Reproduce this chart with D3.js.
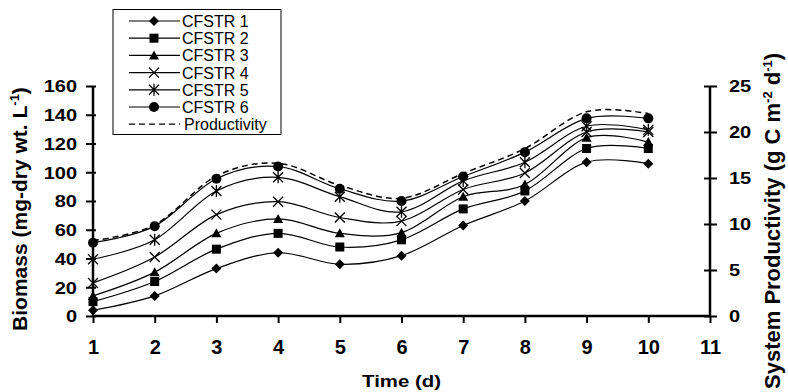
<!DOCTYPE html>
<html><head><meta charset="utf-8">
<script src="https://cdn.jsdelivr.net/npm/d3@7"></script>
<style>body{margin:0;background:#fff}svg{display:block}text{font-family:"Liberation Sans",Arial,sans-serif}</style>
</head><body><svg id="c" width="788" height="392"></svg>
<script>
const days = [1,2,3,4,5,6,7,8,9,10];
const xTicks = [1,2,3,4,5,6,7,8,9,10,11];
const yTicksLeft = [0,20,40,60,80,100,120,140,160];
const yTicksRight = [0,5,10,15,20,25];
const cfstr1 = [4,14,33,44,36,42,63,80,107,106];
const cfstr2 = [10,24,46.5,57.5,48,53,74.5,87,116.5,116.5];
const cfstr3 = [14,30.5,57.5,67.5,57.5,58,83,91.5,124,121];
const cfstr4 = [23,41,70.5,79.5,68.5,66,88,99.5,128,128];
const cfstr5 = [39.5,53,87,96.5,83,72.5,94,107,132,129.5];
const cfstr6 = [51,62.5,95.5,104,88.5,80,97,114,137.5,137.5];
const productivity = [8.2,9.9,15.2,16.6,14.2,12.8,15.5,18.2,22.2,22.0];
const seriesNames = ["CFSTR 1","CFSTR 2","CFSTR 3","CFSTR 4","CFSTR 5","CFSTR 6","Productivity"];
const markerTypes = ["diamond","square","triangle","x","asterisk","circle"];

const svg = d3.select("#c");
const x = d3.scaleLinear().domain([1,11]).range([93,710]);
const yL = d3.scaleLinear().domain([0,160]).range([316,86]);
const yR = d3.scaleLinear().domain([0,25]).range([316,86]);
const FF = "'Liberation Sans', Arial, sans-serif";

const gx = svg.append("g").attr("transform","translate(0,316)")
  .call(d3.axisBottom(x).tickValues(xTicks).tickSize(7).tickFormat(d3.format("d")));
const gl = svg.append("g").attr("transform","translate(93,0)")
  .call(d3.axisLeft(yL).tickValues(yTicksLeft).tickSize(7));
const gr = svg.append("g").attr("transform","translate(710,0)")
  .call(d3.axisRight(yR).tickValues(yTicksRight).tickSize(7));
[gx,gl,gr].forEach(g=>{
  g.select(".domain").attr("stroke","#000").attr("stroke-width",2.5);
  g.selectAll(".tick line").attr("stroke","#000").attr("stroke-width",2);
  g.selectAll(".tick text").attr("fill","#000");
});
gx.select(".domain").attr("d","M93,0H711");
gl.select(".domain").attr("d","M0,316V86");
gr.select(".domain").attr("d","M0,316V86");
gl.selectAll(".tick line").attr("x1",3);
gr.selectAll(".tick line").attr("x1",-6);
gx.selectAll(".tick text").style("font",`bold 20px ${FF}`).attr("dy",null).attr("y",38)
  .attr("text-anchor","middle");
gl.selectAll(".tick text").style("font",`bold 16px ${FF}`).attr("dy","0.36em")
  .attr("x",-16/1.25).attr("transform","scale(1.25,1)");
gr.selectAll(".tick text").style("font",`bold 16px ${FF}`).attr("dy","0.36em")
  .attr("x",19/1.25).attr("text-anchor","start").attr("transform","scale(1.25,1)");

// lines
const allSeries = [cfstr1,cfstr2,cfstr3,cfstr4,cfstr5,cfstr6];
const lineL = d3.line().x((d,i)=>x(days[i])).y(d=>yL(d)).curve(d3.curveCardinal.tension(0));
const lineR = d3.line().x((d,i)=>x(days[i])).y(d=>yR(d)).curve(d3.curveCardinal.tension(0));
svg.append("path").attr("d",lineR(productivity)).attr("fill","none").attr("stroke","#000")
  .attr("stroke-width",1.5).attr("stroke-dasharray","6,4");
allSeries.forEach(s=>{
  svg.append("path").attr("d",lineL(s)).attr("fill","none").attr("stroke","#000").attr("stroke-width",1.2);
});

function marker(g, type, cx, cy){
  if(type==="diamond") g.append("path").attr("d",`M${cx},${cy-5}L${cx+5},${cy}L${cx},${cy+5}L${cx-5},${cy}Z`).attr("fill","#000");
  else if(type==="square") g.append("rect").attr("x",cx-4.5).attr("y",cy-4.5).attr("width",9).attr("height",9).attr("fill","#000");
  else if(type==="triangle") g.append("path").attr("d",`M${cx},${cy-5}L${cx+5},${cy+4}L${cx-5},${cy+4}Z`).attr("fill","#000");
  else if(type==="x") g.append("path").attr("d",`M${cx-5},${cy-5}L${cx+5},${cy+5}M${cx+5},${cy-5}L${cx-5},${cy+5}`).attr("stroke","#000").attr("stroke-width",1.3);
  else if(type==="asterisk") g.append("path").attr("d",`M${cx-5},${cy-5}L${cx+5},${cy+5}M${cx+5},${cy-5}L${cx-5},${cy+5}M${cx},${cy-6}V${cy+6}`).attr("stroke","#000").attr("stroke-width",1.3);
  else if(type==="circle") g.append("circle").attr("cx",cx).attr("cy",cy).attr("r",5).attr("fill","#000");
}
const mg = svg.append("g");
allSeries.forEach((s,k)=>{
  s.forEach((v,i)=>marker(mg, markerTypes[k], x(days[i]), yL(v)));
});

// axis titles
svg.append("text").attr("transform",`translate(${x(6)},387) scale(1.2,1)`).attr("text-anchor","middle")
  .style("font",`bold 17px ${FF}`).text("Time (d)");
const tl = svg.append("text").attr("transform","translate(27,209) rotate(-90)").attr("text-anchor","middle")
  .style("font",`bold 21px ${FF}`);
tl.append("tspan").text("Biomass (mg-dry wt. L");
tl.append("tspan").attr("dy",-8).style("font-size","13px").text("-1");
tl.append("tspan").attr("dy",8).text(")");
const tr = svg.append("text").attr("transform","translate(780,389) rotate(-90)").attr("text-anchor","start")
  .style("font",`bold 22px ${FF}`);
tr.append("tspan").text("System Productivity (g C m");
tr.append("tspan").attr("dy",-8).style("font-size","13px").text("-2");
tr.append("tspan").attr("dy",8).text(" d");
tr.append("tspan").attr("dy",-8).style("font-size","13px").text("-1");
tr.append("tspan").attr("dy",8).text(")");

// legend
const lg = svg.append("g");
lg.append("rect").attr("x",113).attr("y",9.5).attr("width",168).attr("height",125)
  .attr("fill","#fff").attr("stroke","#000").attr("stroke-width",1);
seriesNames.forEach((n,i)=>{
  const yy = 21 + i*17.2;
  const ln = lg.append("line").attr("x1",129).attr("x2",180).attr("y1",yy).attr("y2",yy).attr("stroke","#000");
  if(i<6){ ln.attr("stroke-width",1.2); marker(lg, markerTypes[i], 154, yy); }
  else ln.attr("stroke-width",1.3).attr("stroke-dasharray","6,4");
  lg.append("text").attr("x",i<6?182:184).attr("y",yy+6).style("font",`16px ${FF}`).text(n);
});
</script></body></html>
